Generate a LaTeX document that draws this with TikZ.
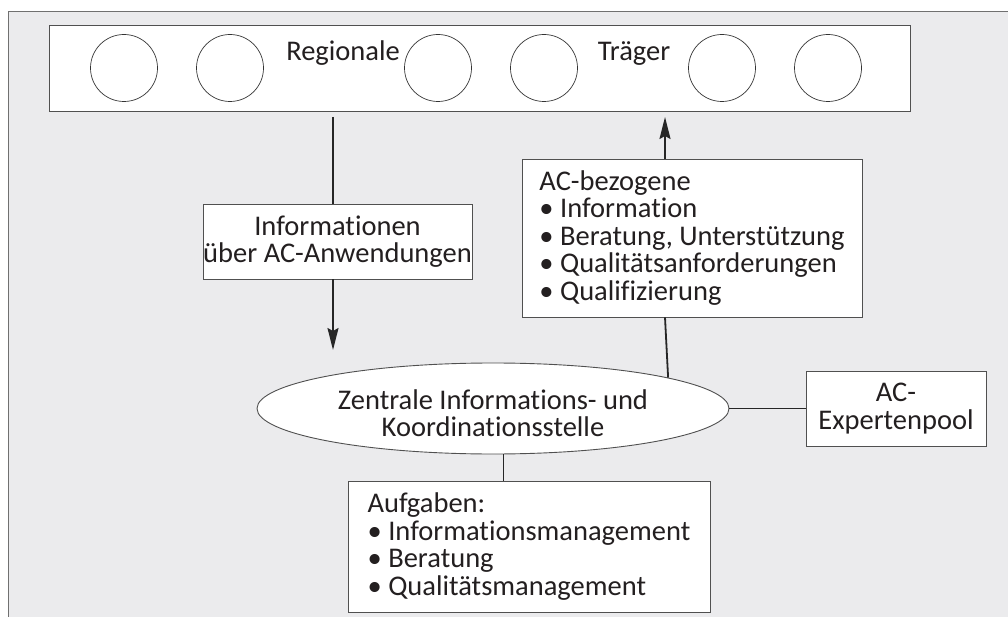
\documentclass[tikz,border=0pt]{standalone}
\usepackage{fontspec}
\setmainfont{Carlito}[Ligatures={NoCommon,NoRare}]
\usetikzlibrary{arrows.meta,shapes.geometric}
\definecolor{bgc}{HTML}{EBEBED}
\definecolor{framec}{HTML}{707070}
\definecolor{boxc}{HTML}{505050}
\definecolor{txt}{HTML}{231F20}
\begin{document}
\begin{tikzpicture}[x=1pt,y=-1pt,
  font=\fontsize{28.5}{27.5}\selectfont, text=txt,
  box/.style={draw=boxc, fill=white, line width=0.9pt},
  conn/.style={draw=black!85, line width=0.9pt},
  arr/.style={draw=black!85, line width=1.8pt},
  tip/.style={-{Stealth[length=22pt,width=11pt,inset=3pt]}},
  circ/.style={draw=black!80, line width=0.7pt, fill=white, circle, minimum size=67pt, inner sep=0pt}]
\useasboundingbox (0,0) rectangle (1008,617);
\fill[white] (0,0) rectangle (1008,617);
\draw[fill=bgc, draw=framec, line width=1pt] (8,12) rectangle (1015,625);
% top box
\node[box, minimum width=861pt, minimum height=86pt, inner sep=0pt] (top) at (479.5,68) {};
\node[circ] (c1) at (124,68) {};
\node[circ] (c2) at (230,68) {};
\node[circ] (c3) at (438,68) {};
\node[circ] (c4) at (544,68) {};
\node[circ] (c5) at (722,68) {};
\node[circ] (c6) at (828,68) {};
\node[anchor=base, inner sep=0pt] (reg) at (343,61) {Regionale};
\node[anchor=base, inner sep=0pt] (tra) at (634,61) {Träger};
% left info box
\node[box, minimum width=269pt, minimum height=75pt, inner sep=0pt, align=center] (info) at (337.5,241.5) {Informationen\\über AC-Anwendungen};
% right box
\node[box, minimum width=340pt, inner sep=0pt, minimum height=158pt, align=left] (acb) at (692,238) {AC-bezogene\\• Information\\• Beratung, Unterstützung\\• Qualitätsanforderungen\\• Qualifizierung};
% ellipse
\node[box, ellipse, minimum width=472pt, minimum height=91pt, inner sep=0pt] (ell) at (493,408.5) {};
\node[align=center, inner sep=0pt] (elltxt) at (493,413) {Zentrale Informations- und\\Koordinationsstelle};
% expert box
\node[box, minimum width=180pt, minimum height=75pt, inner sep=0pt, align=center] (exp) at (896,408.5) {AC-\\Expertenpool};
% tasks box
\node[box, minimum width=362pt, inner sep=0pt, minimum height=131pt, align=left] (auf) at (529,546.5) {Aufgaben:\\• Informationsmanagement\\• Beratung\\• Qualitätsmanagement};
% connectors
\coordinate (la) at (333,117);
\coordinate (lb) at (333,350);
\coordinate (ra) at (665,117);
\coordinate (dd) at (503,470);
\draw[arr] (la) -- (la |- info.north);
\draw[arr,tip] (la |- info.south) -- (lb);
\draw[arr,tip] (ra |- acb.north) -- (ra);
\draw[arr] (ra |- acb.south) -- (ell.10.4);
\draw[conn] (ell.east) -- (exp.west);
\draw[conn] (dd |- ell.south) -- (dd |- auf.north);
\end{tikzpicture}
\end{document}
